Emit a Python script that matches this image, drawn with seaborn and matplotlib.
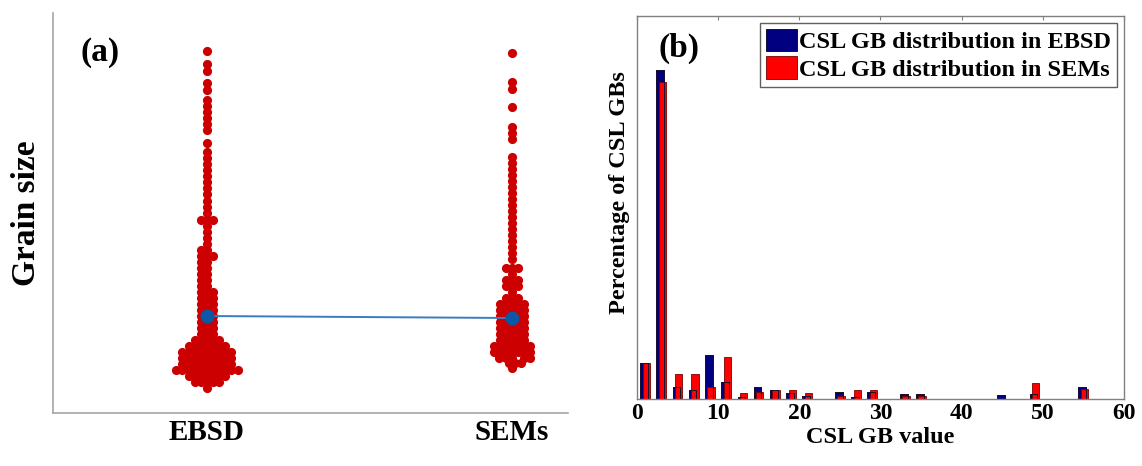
import numpy as np
import pandas as pd
import matplotlib
matplotlib.use("Agg")
import matplotlib.pyplot as plt
import seaborn as sns

# ---- (a) grain sizes: level of each row of dots and how many grains sit on it
groups = ["EBSD", "SEMs"]

ebsd_levels = [362, 349, 342, 330, 323,
               313, 307, 301, 295, 289, 283, 270,
               261, 255, 249, 243, 237, 231, 225, 219,
               212, 206, 200, 193, 187, 181, 175, 169,
               163, 157, 151, 145, 139, 133, 127,
               121, 115, 109, 103, 97, 91, 85,
               79, 73, 67, 61, 55, 49, 43, 37, 31, 25]
ebsd_counts = [1, 1, 1, 1, 1,
               1, 1, 1, 1, 1, 1, 1,
               1, 1, 1, 1, 1, 1, 1, 1,
               1, 1, 1, 3, 1, 1, 1, 1,
               2, 3, 2, 2, 2, 2, 2,
               3, 3, 3, 3, 3, 3, 3,
               3, 5, 7, 9, 9, 9, 11, 7, 5, 1]

sem_levels = [360, 331, 324, 306, 286, 280, 274,
              256, 250, 244, 238, 232, 226, 220, 214, 208, 202,
              196, 190, 184, 178, 172, 166, 160, 154,
              145, 139, 133, 127, 121, 115, 109, 103, 97, 91, 85,
              79, 73, 67, 61, 55, 50, 45]
sem_counts = [1, 1, 1, 1, 1, 1, 1,
              1, 1, 1, 1, 1, 1, 1, 1, 1, 1,
              1, 1, 1, 1, 1, 1, 1, 1,
              3, 1, 3, 3, 1, 3, 5, 5, 5, 5, 5,
              5, 5, 7, 7, 5, 3, 1]

mean_size = [97, 95]

# ---- (b) CSL GB distribution (percent)
csl_value = np.array([1, 3, 5, 7, 9, 11, 13, 15, 17, 19, 21, 25, 27, 29, 33, 35, 45, 49, 55])
ebsd_pct = [6.9, 62.5, 2.2, 1.7, 8.4, 3.3, 0.4, 2.2, 1.7, 1.1, 0.6, 1.3, 0.4, 1.4, 1.0, 1.0, 0.7, 1.0, 2.2]
sem_pct = [6.9, 60.3, 4.7, 4.7, 2.2, 7.9, 1.1, 1.4, 1.8, 1.8, 1.1, 0.6, 1.8, 1.8, 0.6, 0.6, 0.0, 3.0, 1.9]

sns.set_style("white")
plt.rcParams["font.family"] = ["Liberation Serif", "DejaVu Serif"]
plt.rcParams["font.weight"] = "bold"
plt.rcParams["text.color"] = "black"
plt.rcParams["axes.labelcolor"] = "black"
plt.rcParams["xtick.labelcolor"] = "black"

fig = plt.figure(figsize=(11.42, 4.66), dpi=100)
ax1 = fig.add_axes([0.0464, 0.1137, 0.451, 0.8584])
ax2 = fig.add_axes([0.5578, 0.1438, 0.4264, 0.8219])

# ---------------- panel (a)
grains = pd.DataFrame({
    "group": ["EBSD"] * sum(ebsd_counts) + ["SEMs"] * sum(sem_counts),
    "size": np.concatenate([np.repeat(ebsd_levels, ebsd_counts),
                            np.repeat(sem_levels, sem_counts)]),
})
sns.swarmplot(data=grains, x="group", y="size", order=groups, color="#CC0000",
              size=4.2, linewidth=0, ax=ax1)
swarm_sets = list(ax1.collections)
sns.pointplot(x=groups, y=mean_size, order=groups, color="#3A7CC2", errorbar=None,
              markersize=9, linewidth=1.4, markerfacecolor="#0B58A8",
              markeredgecolor="#0B58A8", zorder=10, ax=ax1)

ax1.set_xlim(-0.505, 1.184)
ax1.set_ylim(0, 400)
ax1.set_yticks([])
ax1.set_xlabel("")
ax1.set_ylabel("Grain size", fontsize=24, fontweight="bold")
ax1.yaxis.set_label_coords(-0.021, 0.5)
for side in ["top", "right"]:
    ax1.spines[side].set_visible(False)
for side in ["left", "bottom"]:
    ax1.spines[side].set_color("#A6A6A6")
    ax1.spines[side].set_linewidth(1.2)
ax1.tick_params(axis="x", direction="out", length=3, color="#A6A6A6",
                labelsize=21, pad=1, labelcolor="black")
fig.text(0.0876, 0.888, "(a)", fontsize=24, fontweight="bold", ha="center", va="center")

# ---------------- panel (b)
sns.barplot(x=csl_value - 0.14, y=ebsd_pct, native_scale=True, orient="x", width=0.47,
            color="#000080", saturation=1, edgecolor="#00002A", linewidth=0.6,
            errorbar=None, label="CSL GB distribution in EBSD", ax=ax2)
sns.barplot(x=csl_value + 0.13, y=sem_pct, native_scale=True, orient="x", width=0.45,
            color="#FF0000", saturation=1, edgecolor="#7A0000", linewidth=0.6,
            errorbar=None, label="CSL GB distribution in SEMs", ax=ax2)
# blue outlines stay visible through the red bars
sns.barplot(x=csl_value - 0.14, y=ebsd_pct, native_scale=True, orient="x", width=0.47,
            color="#1A1030", fill=False, linewidth=0.7, errorbar=None, ax=ax2)

ax2.set_xlim(0, 60)
ax2.set_ylim(0, 72.8)
ax2.set_xticks(range(0, 61, 10))
ax2.set_xticklabels([str(v) for v in range(0, 61, 10)])
ax2.set_yticks(range(0, 71, 10))
ax2.set_yticklabels([])
ax2.tick_params(axis="both", direction="in", length=3, color="#808080",
                top=True, right=False, labelsize=17, pad=3, labelcolor="black")
for side in ax2.spines:
    ax2.spines[side].set_color("#808080")
    ax2.spines[side].set_linewidth(1.0)
ax2.set_xlabel("CSL GB value", fontsize=17.5, fontweight="bold", va="top")
ax2.xaxis.set_label_coords(0.5, -0.073)
ax2.set_ylabel("Percentage of CSL GBs", fontsize=17.5, fontweight="bold")
ax2.yaxis.set_label_coords(-0.0154, 0.538)
ax2.legend(loc="upper right", prop={"size": 17.5, "weight": "bold"},
           frameon=True, fancybox=False, framealpha=1, edgecolor="#606060",
           handlelength=1.25, handleheight=1.05, handletextpad=0.1,
           borderpad=0.25, labelspacing=0.12, borderaxespad=0.28)
fig.text(0.595, 0.897, "(b)", fontsize=24, fontweight="bold", ha="center", va="center")

# lay the swarm out once, then freeze it and let the dots grow so they merge
fig.canvas.draw()
for coll in swarm_sets:
    if "draw" in coll.__dict__:
        del coll.draw
    coll.set_sizes([6.6 ** 2])

fig.savefig("out.png", dpi=100)
plt.close(fig)
